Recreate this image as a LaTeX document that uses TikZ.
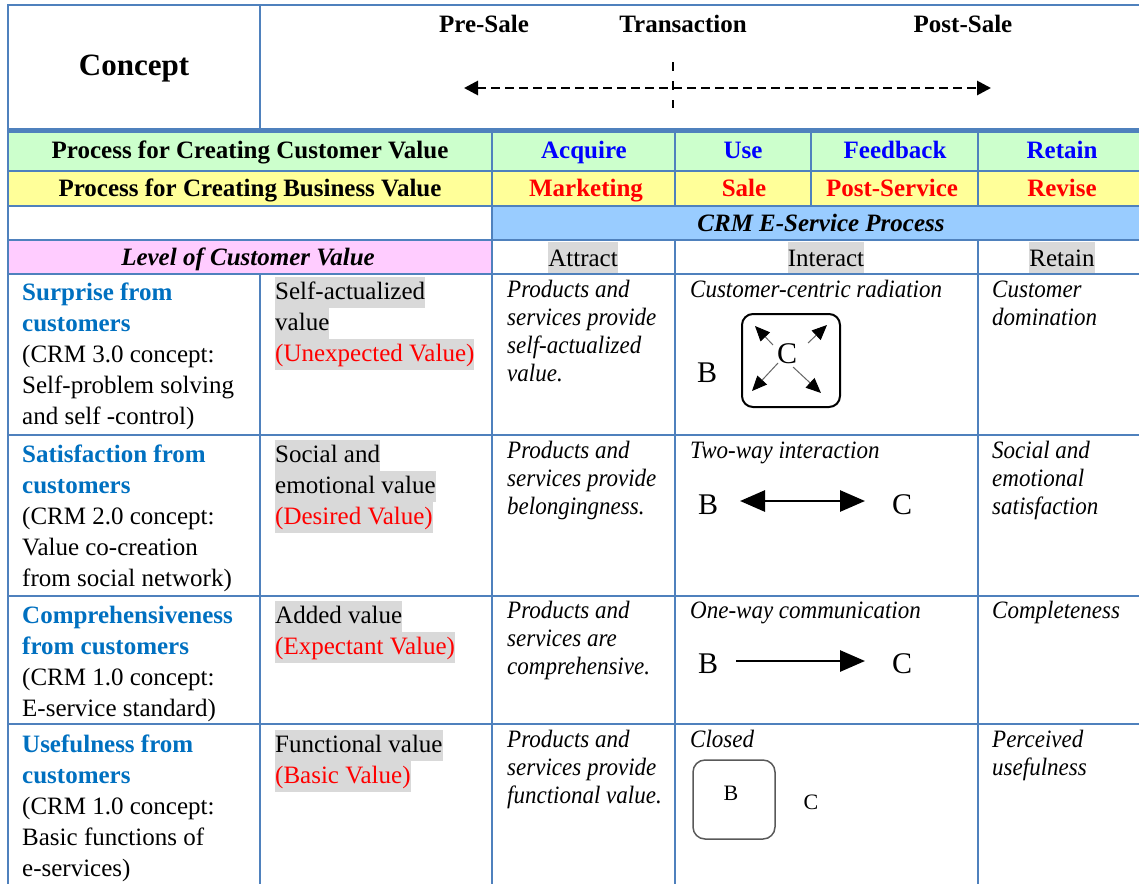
\documentclass[tikz,border=0pt]{standalone}
\usepackage{fontspec}
\setmainfont{Liberation Serif}
\newfontfamily\condfont[FakeStretch=0.92]{Liberation Serif}
\usetikzlibrary{arrows.meta}

\definecolor{gridblue}{RGB}{79,129,189}
\definecolor{bandgreen}{RGB}{204,255,204}
\definecolor{bandyellow}{RGB}{255,255,153}
\definecolor{bandblue}{RGB}{153,204,255}
\definecolor{bandpink}{RGB}{255,204,255}
\definecolor{hlgray}{RGB}{217,217,217}
\definecolor{lvlblue}{RGB}{0,112,192}
\definecolor{pureblue}{RGB}{0,0,255}
\definecolor{purered}{RGB}{255,0,0}

\newcommand\bodysize{\fontsize{25}{31}\selectfont}
\newcommand\descsize{\fontsize{25}{28}\selectfont}

\tikzset{
  grid/.style={draw=gridblue, line width=2pt},
  lab/.style={inner sep=0pt, anchor=base west, font=\bodysize},
  labc/.style={lab, anchor=base},
  head/.style={labc, font=\bodysize\bfseries},
  lvl/.style={lab, font=\bodysize\bfseries, text=lvlblue},
  hl/.style={lab, fill=hlgray, text height=22pt, text depth=9pt},
  hlc/.style={labc, fill=hlgray, text height=24pt, text depth=7pt},
  desc/.style={lab, font=\condfont\itshape\descsize},
  letter/.style={inner sep=0pt, anchor=base, font=\fontsize{30}{36}\selectfont},
  smallletter/.style={inner sep=0pt, anchor=base, font=\fontsize{22}{26}\selectfont},
  ray/.style={draw=black!60, line width=1pt,
    -{Triangle[length=15pt,width=13pt,color=black]}},
  bold arrow/.style={line width=2.8pt},
}

\begin{document}
\begin{tikzpicture}[x=1pt,y=-1pt]
\useasboundingbox (0,0) rectangle (1139,884);

% shaded bands
\fill[bandgreen]  (8,130)   rectangle (1139,171);
\fill[bandyellow] (8,171)   rectangle (1139,206);
\fill[bandblue]   (492,206) rectangle (1139,240);
\fill[bandpink]   (8,240)   rectangle (492,274);

% table rules
\draw[grid] (7,5) -- (1139,5);
\draw[grid] (8,4) -- (8,884);
\draw[grid] (260,5) -- (260,130);
\foreach \y in {171,206,240,274,435,596,724} \draw[grid] (8,\y) -- (1139,\y);
\draw[grid] (492,130) -- (492,884);
\draw[grid] (260,274) -- (260,884);
\foreach \x in {675,811,978} \draw[grid] (\x,130) -- (\x,206);
\foreach \x in {675,978} \draw[grid] (\x,240) -- (\x,884);
\draw[draw=gridblue, line width=4.5pt] (7,130.5) -- (1139,130.5);

% header: concept and sales timeline
\node[labc, font=\fontsize{31}{37}\selectfont\bfseries] (concept) at (134,75) {Concept};
\node[head] (presale)  at (484,32) {Pre-Sale};
\node[head] (trans)    at (683,32) {Transaction};
\node[head] (postsale) at (963,32) {Post-Sale};
\coordinate (tl) at (464,88);
\coordinate (tr) at (991,88);
\coordinate (tt) at (673,62);
\coordinate (tb) at (673,108);
\draw[line width=2.8pt, dash pattern=on 9pt off 5pt,
  {Triangle[length=14pt,width=14pt]}-{Triangle[length=14pt,width=14pt]}] (tl) -- (tr);
\draw[line width=2.6pt, dash pattern=on 9pt off 10pt] (tt) -- (tb);

% customer value process
\node[head] (cvp) at (250,158) {Process for Creating Customer Value};
\node[head, text=pureblue] (acq) at (584,158) {Acquire};
\node[head, text=pureblue] (use) at (743,158) {Use};
\node[head, text=pureblue] (fb)  at (895,158) {Feedback};
\node[head, text=pureblue] (ret) at (1062,158) {Retain};

% business value process
\node[head] (bvp) at (250,196) {Process for Creating Business Value};
\node[head, text=purered] (mkt)  at (586,196) {Marketing};
\node[head, text=purered] (sale) at (744,196) {Sale};
\node[head, text=purered] (post) at (892,196) {Post-Service};
\node[head, text=purered] (rev)  at (1062,196) {Revise};

% e-service process headings
\node[labc, font=\bodysize\bfseries\itshape] (crm) at (821,231) {CRM E-Service Process};
\node[labc, font=\bodysize\bfseries\itshape] (lvl) at (248,265) {Level of Customer Value};
\node[hlc] (attract)  at (583,266) {Attract};
\node[hlc] (interact) at (826,266) {Interact};
\node[hlc] (retain)   at (1062,266) {Retain};

% ---- level 1: surprise
\node[lvl] (a1) at (22,300) {Surprise from};
\node[lvl] (a2) at (22,331) {customers};
\node[lab] (a3) at (22,362) {(CRM 3.0 concept:};
\node[lab] (a4) at (22,393) {Self-problem solving};
\node[lab] (a5) at (22,424) {and self -control)};
\node[hl] (av1) at (275,299) {Self-actualized\hspace{6pt}};
\node[hl] (av2) at (275,330) {value};
\node[hl, text=purered] (av3) at (275,361) {(Unexpected Value)};
\node[desc] (ad1) at (507,297) {Products and};
\node[desc] (ad2) at (507,325) {services provide};
\node[desc] (ad3) at (507,353) {self-actualized};
\node[desc] (ad4) at (507,381) {value.};
\node[desc] (ai)  at (690,297) {Customer-centric radiation};
\node[desc] (ar1) at (992,297) {Customer};
\node[desc] (ar2) at (992,325) {domination};
\node[draw, line width=2pt, rounded corners=11pt, minimum width=98pt,
  minimum height=93pt, inner sep=0pt] (radbox) at (791,360.5) {};
\node[letter] (rc) at (787,363) {C};
\node[letter] (rb) at (707,382) {B};
\coordinate (ul0) at (773,345); \coordinate (ul1) at (755,326);
\coordinate (ur0) at (808,343); \coordinate (ur1) at (827,325);
\coordinate (ll0) at (778,363); \coordinate (ll1) at (752,391);
\coordinate (lr0) at (793,367); \coordinate (lr1) at (821,393);
\draw[ray] (ul0) -- (ul1);
\draw[ray] (ur0) -- (ur1);
\draw[ray] (ll0) -- (ll1);
\draw[ray] (lr0) -- (lr1);

% ---- level 2: satisfaction
\node[lvl] (b1) at (22,462) {Satisfaction from};
\node[lvl] (b2) at (22,493) {customers};
\node[lab] (b3) at (22,524) {(CRM 2.0 concept:};
\node[lab] (b4) at (22,555) {Value co-creation};
\node[lab] (b5) at (22,586) {from social network)};
\node[hl] (bv1) at (275,462) {Social and};
\node[hl] (bv2) at (275,493) {emotional value};
\node[hl, text=purered] (bv3) at (275,524) {(Desired Value)};
\node[desc] (bd1) at (507,458) {Products and};
\node[desc] (bd2) at (507,486) {services provide};
\node[desc] (bd3) at (507,514) {belongingness.};
\node[desc] (bi)  at (690,458) {Two-way interaction};
\node[desc] (br1) at (992,458) {Social and};
\node[desc] (br2) at (992,486) {emotional};
\node[desc] (br3) at (992,514) {satisfaction};
\node[letter] (tb2) at (708,514) {B};
\node[letter] (tc2) at (902,514) {C};
\coordinate (tw0) at (740,501);
\coordinate (tw1) at (865,501);
\draw[bold arrow, {Triangle[length=25pt,width=21pt]}-{Triangle[length=25pt,width=21pt]}] (tw0) -- (tw1);

% ---- level 3: comprehensiveness
\node[lvl] (c1) at (22,623) {Comprehensiveness};
\node[lvl] (c2) at (22,654) {from customers};
\node[lab] (c3) at (22,685) {(CRM 1.0 concept:};
\node[lab] (c4) at (22,716) {E-service standard)};
\node[hl] (cv1) at (275,623) {Added value};
\node[hl, text=purered] (cv2) at (275,654) {(Expectant Value)};
\node[desc] (cd1) at (507,618) {Products and};
\node[desc] (cd2) at (507,646) {services are};
\node[desc] (cd3) at (507,674) {comprehensive.};
\node[desc] (ci)  at (690,618) {One-way communication};
\node[desc] (cr1) at (992,618) {Completeness};
\node[letter] (ob) at (708,673) {B};
\node[letter] (oc) at (902,673) {C};
\coordinate (ow0) at (736,661);
\coordinate (ow1) at (865,661);
\draw[bold arrow, -{Triangle[length=25pt,width=21pt]}] (ow0) -- (ow1);

% ---- level 4: usefulness
\node[lvl] (d1) at (22,752) {Usefulness from};
\node[lvl] (d2) at (22,783) {customers};
\node[lab] (d3) at (22,814) {(CRM 1.0 concept:};
\node[lab] (d4) at (22,845) {Basic functions of};
\node[lab] (d5) at (22,876) {e-services)};
\node[hl] (dv1) at (275,752) {Functional value};
\node[hl, text=purered] (dv2) at (275,783) {(Basic Value)};
\node[desc] (dd1) at (507,747) {Products and};
\node[desc] (dd2) at (507,775) {services provide};
\node[desc] (dd3) at (507,803) {functional value.};
\node[desc] (di)  at (690,747) {Closed};
\node[desc] (dr1) at (992,747) {Perceived};
\node[desc] (dr2) at (992,775) {usefulness};
\node[draw=black!65, line width=1.5pt, rounded corners=12pt, minimum width=82pt,
  minimum height=79pt, inner sep=0pt] (closedbox) at (734,799.5) {};
\node[smallletter] (cb) at (731,800) {B};
\node[smallletter] (cc) at (811,809) {C};
\end{tikzpicture}
\end{document}
